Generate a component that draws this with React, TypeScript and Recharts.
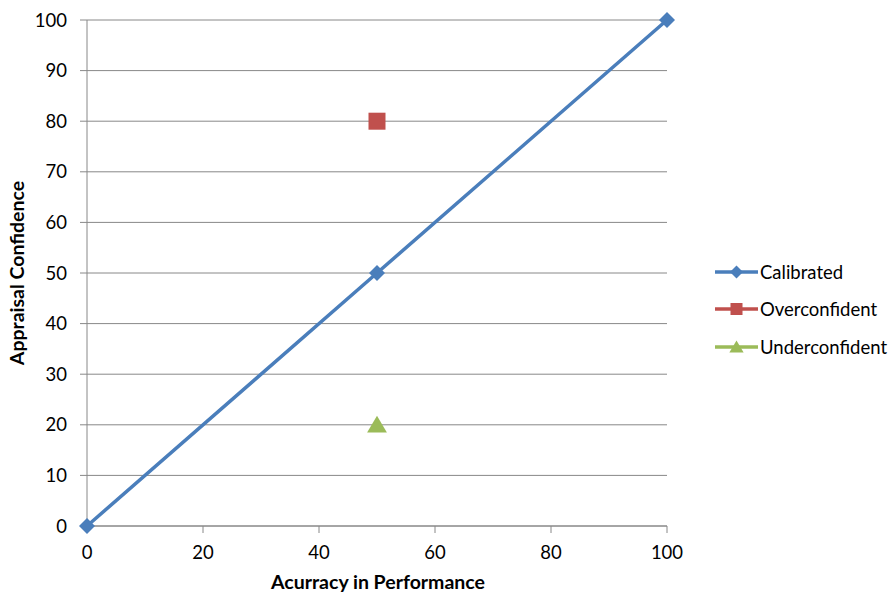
import { LineChart, Line, XAxis, YAxis, CartesianGrid } from "recharts";

type Pt = { x: number; y: number };

const calibrated: Pt[] = [
  { x: 0, y: 0 },
  { x: 50, y: 50 },
  { x: 100, y: 100 },
];
const overconfident: Pt[] = [{ x: 50, y: 80 }];
const underconfident: Pt[] = [{ x: 50, y: 20 }];

const xTicks = [0, 20, 40, 60, 80, 100];
const yTicks = [0, 10, 20, 30, 40, 50, 60, 70, 80, 90, 100];

const BLUE = "#4A7EBB";
const RED = "#C0504D";
const GREEN = "#9BBB59";
const GRID = "#888888";
const FONT = "Lato, 'Open Sans', sans-serif";
const FS = 18.5;
const TITLE_FS = 19.5;

const series = [
  { name: "Calibrated", color: BLUE, shape: "diamond" },
  { name: "Overconfident", color: RED, shape: "square" },
  { name: "Underconfident", color: GREEN, shape: "triangle" },
];

function Marker({ cx, cy, shape, color, s }: { cx: number; cy: number; shape: string; color: string; s: number }) {
  if (shape === "diamond")
    return <polygon points={`${cx},${cy - s} ${cx + s},${cy} ${cx},${cy + s} ${cx - s},${cy}`} fill={color} />;
  if (shape === "square") return <rect x={cx - s} y={cy - s} width={s * 2} height={s * 2} fill={color} />;
  return <polygon points={`${cx},${cy - s} ${cx + s * 1.1},${cy + s * 0.85} ${cx - s * 1.1},${cy + s * 0.85}`} fill={color} />;
}

const dotFor = (shape: string, color: string, s: number) => (p: any) =>
  <Marker key={`${shape}-${p.index}`} cx={p.cx} cy={p.cy} shape={shape} color={color} s={s} />;

function LegendBox() {
  return (
    <div style={{ position: "absolute", left: 713, top: 253, fontFamily: FONT, fontSize: FS, color: "#000" }}>
      {series.map((s) => (
        <div key={s.name} style={{ display: "flex", alignItems: "center", height: 37.5 }}>
          <svg width={47} height={20}>
            <line x1={2} y1={10} x2={45} y2={10} stroke={s.color} strokeWidth={3.5} />
            <Marker cx={23.5} cy={10} shape={s.shape} color={s.color} s={s.shape === "square" ? 6 : 6.5} />
          </svg>
          <span>{s.name}</span>
        </div>
      ))}
    </div>
  );
}

export default function App() {
  return (
    <div style={{ position: "absolute", left: 0, top: 0, width: 895, height: 594, background: "#fff" }}>
      <LineChart width={895} height={594} margin={{ top: 20, right: 228, left: 0, bottom: 0 }}>
        <CartesianGrid vertical={false} stroke={GRID} strokeWidth={1} />
        <XAxis
          type="number"
          dataKey="x"
          domain={[0, 100]}
          ticks={xTicks}
          height={68}
          tickSize={7}
          tickMargin={13}
          axisLine={{ stroke: GRID }}
          tickLine={{ stroke: GRID }}
          tick={{ fill: "#000", fontSize: FS, fontFamily: FONT }}
          label={{
            content: () => (
              <text x={378} y={589} textAnchor="middle" fontFamily={FONT} fontSize={TITLE_FS} fontWeight="bold" fill="#000">
                Acurracy in Performance
              </text>
            ),
          }}
        />
        <YAxis
          type="number"
          dataKey="y"
          domain={[0, 100]}
          ticks={yTicks}
          width={87}
          tickSize={7}
          tickMargin={13}
          axisLine={{ stroke: GRID }}
          tickLine={{ stroke: GRID }}
          tick={{ fill: "#000", fontSize: FS, fontFamily: FONT }}
          label={{
            content: () => (
              <text
                x={24}
                y={273}
                transform="rotate(-90 24 273)"
                textAnchor="middle"
                fontFamily={FONT}
                fontSize={TITLE_FS}
                fontWeight="bold"
                fill="#000"
              >
                Appraisal Confidence
              </text>
            ),
          }}
        />
        <Line
          data={calibrated}
          dataKey="y"
          name="Calibrated"
          stroke={BLUE}
          strokeWidth={3.5}
          dot={dotFor("diamond", BLUE, 8)}
          activeDot={false}
          isAnimationActive={false}
        />
        <Line
          data={overconfident}
          dataKey="y"
          name="Overconfident"
          stroke={RED}
          strokeWidth={3.5}
          dot={dotFor("square", RED, 8.5)}
          activeDot={false}
          isAnimationActive={false}
        />
        <Line
          data={underconfident}
          dataKey="y"
          name="Underconfident"
          stroke={GREEN}
          strokeWidth={3.5}
          dot={dotFor("triangle", GREEN, 9)}
          activeDot={false}
          isAnimationActive={false}
        />
      </LineChart>
      <LegendBox />
    </div>
  );
}
